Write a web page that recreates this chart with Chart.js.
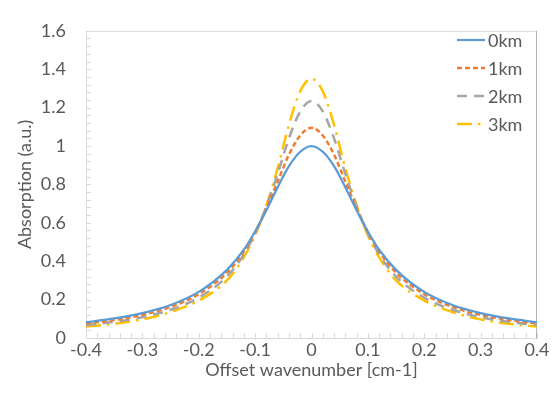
<!DOCTYPE html>
<html>
<head>
<meta charset="utf-8">
<script src="https://cdn.jsdelivr.net/npm/chart.js@4.4.1/dist/chart.umd.min.js"></script>
<style>
  html, body { margin: 0; padding: 0; background: #ffffff; }
  #wrap { width: 556px; height: 406px; }
</style>
</head>
<body>
<div id="wrap"><canvas id="c" width="556" height="406"></canvas></div>
<script>
// ---- data ----
const offsets = [-0.4,-0.35,-0.3,-0.25,-0.2,-0.15,-0.12,-0.1,-0.08,-0.06,-0.04,-0.02,0,0.02,0.04,0.06,0.08,0.1,0.12,0.15,0.2,0.25,0.3,0.35,0.4];
const seriesLabels = ['0km', '1km', '2km', '3km'];
const abs0km = [0.082,0.102,0.13,0.172,0.24,0.355,0.46,0.555,0.665,0.785,0.895,0.97,1.00,0.97,0.895,0.785,0.665,0.555,0.46,0.355,0.24,0.172,0.13,0.102,0.082];
const abs1km = [0.075,0.094,0.12,0.162,0.228,0.34,0.45,0.55,0.675,0.815,0.955,1.055,1.095,1.055,0.955,0.815,0.675,0.55,0.45,0.34,0.228,0.162,0.12,0.094,0.075];
const abs2km = [0.067,0.084,0.108,0.147,0.21,0.32,0.435,0.545,0.685,0.855,1.04,1.18,1.235,1.18,1.04,0.855,0.685,0.545,0.435,0.32,0.21,0.147,0.108,0.084,0.067];
const abs3km = [0.06,0.074,0.097,0.135,0.195,0.30,0.42,0.535,0.69,0.885,1.11,1.285,1.35,1.285,1.11,0.885,0.69,0.535,0.42,0.30,0.195,0.135,0.097,0.074,0.06];
const xTicks = [-0.4,-0.3,-0.2,-0.1,0,0.1,0.2,0.3,0.4];
const yTicks = [0,0.2,0.4,0.6,0.8,1,1.2,1.4,1.6];
const xMinorStep = 0.02;
const yMinorStep = 0.04;

const allSeries = [abs0km, abs1km, abs2km, abs3km];
const colors = ['#5B9BD5', '#ED7D31', '#A5A5A5', '#FFC000'];
const dashes = [[], [5, 3], [10, 7], [15, 6, 2.5, 6]];
const widths = [2.25, 2.5, 2.5, 2.5];

const TEXT = '#595959';
const FONT = 'Lato, "Open Sans", sans-serif';

const datasets = allSeries.map((vals, i) => ({
  label: seriesLabels[i],
  data: offsets.map((x, k) => ({ x: x, y: vals[k] })),
  borderColor: colors[i],
  backgroundColor: colors[i],
  borderWidth: widths[i],
  borderDash: dashes[i],
  pointRadius: 0,
  fill: false,
  cubicInterpolationMode: 'monotone',
  borderCapStyle: 'butt'
}));

const decor = {
  id: 'decor',
  beforeDatasetsDraw(chart) {
    const { ctx, chartArea: a, scales: { x, y } } = chart;
    ctx.save();
    ctx.lineWidth = 1;
    ctx.strokeStyle = '#d9d9d9';
    ctx.beginPath();
    ctx.moveTo(a.left + 0.5, a.bottom); ctx.lineTo(a.left + 0.5, a.top + 0.5); ctx.lineTo(a.right, a.top + 0.5);
    ctx.moveTo(a.left, a.bottom + 0.5); ctx.lineTo(a.right, a.bottom + 0.5);
    ctx.stroke();
    ctx.strokeStyle = '#b4b4b4';
    ctx.beginPath();
    ctx.moveTo(a.right - 0.5, a.top); ctx.lineTo(a.right - 0.5, a.bottom + 1);
    ctx.stroke();
    ctx.strokeStyle = '#d9d9d9';
    ctx.beginPath();
    const ny = Math.round((y.max - y.min) / yMinorStep);
    for (let i = 0; i <= ny; i++) {
      const py = Math.round(y.getPixelForValue(y.min + i * yMinorStep)) + 0.5;
      ctx.moveTo(a.left, py); ctx.lineTo(a.left + 5, py);
    }
    const nx = Math.round((x.max - x.min) / xMinorStep);
    for (let i = 0; i <= nx; i++) {
      const px = Math.round(x.getPixelForValue(x.min + i * xMinorStep)) + 0.5;
      ctx.moveTo(px, a.bottom); ctx.lineTo(px, a.bottom - 5);
    }
    ctx.stroke();
    ctx.restore();
  },
  afterDraw(chart) {
    const { ctx } = chart;
    ctx.save();
    const x0 = 457, x1 = 485, tx = 488;
    const rowsY = [40, 68, 96, 124];
    chart.data.datasets.forEach((ds, i) => {
      const yy = rowsY[i];
      ctx.strokeStyle = ds.borderColor;
      ctx.lineWidth = ds.borderWidth;
      ctx.setLineDash(ds.borderDash);
      ctx.beginPath();
      ctx.moveTo(x0, yy); ctx.lineTo(x1, yy);
      ctx.stroke();
      ctx.setLineDash([]);
      ctx.fillStyle = TEXT;
      ctx.font = '18px ' + FONT;
      ctx.textBaseline = 'middle';
      ctx.textAlign = 'left';
      ctx.fillText(ds.label, tx, yy + 1);
    });
    ctx.restore();
  }
};

new Chart(document.getElementById('c'), {
  type: 'line',
  data: { datasets },
  options: {
    responsive: false,
    animation: false,
    devicePixelRatio: 1,
    layout: { padding: { left: 0, right: 19, top: 18, bottom: 0 } },
    plugins: { legend: { display: false }, tooltip: { enabled: false } },
    scales: {
      x: {
        type: 'linear',
        min: -0.4, max: 0.4,
        afterFit(s) { s.height = 68; },
        afterBuildTicks(s) { s.ticks = xTicks.map(v => ({ value: v })); },
        grid: { display: false, drawTicks: false },
        border: { display: false },
        ticks: {
          color: TEXT, font: { family: FONT, size: 18 }, padding: 1, maxRotation: 0, autoSkip: false,
          callback: v => String(Math.round(v * 10) / 10)
        },
        title: { display: true, text: 'Offset wavenumber [cm-1]', color: TEXT, font: { family: FONT, size: 18 }, padding: { top: 0, bottom: 25 } }
      },
      y: {
        min: 0, max: 1.6,
        afterFit(s) { s.width = 86; },
        afterBuildTicks(s) { s.ticks = yTicks.map(v => ({ value: v })); },
        grid: { display: false, drawTicks: false },
        border: { display: false },
        ticks: {
          color: TEXT, font: { family: FONT, size: 18 }, padding: 20, autoSkip: false,
          callback: v => String(Math.round(v * 10) / 10)
        },
        title: { display: true, text: 'Absorption (a.u.)', color: TEXT, font: { family: FONT, size: 18 }, padding: { top: 14, bottom: 0 } }
      }
    }
  },
  plugins: [decor]
});
</script>
</body>
</html>
